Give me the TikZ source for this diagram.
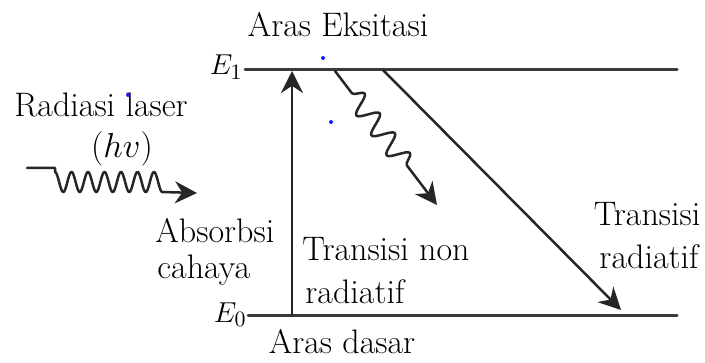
\documentclass[tikz,border=0pt]{standalone}
\usetikzlibrary{arrows.meta,decorations.pathmorphing}
\definecolor{lvlgray}{HTML}{3A3A3A}
\definecolor{dotblue}{HTML}{1A1AFF}
\tikzset{
  every picture/.style={
    line join=round,
    line cap=round,
    >={Stealth[length=11pt,width=11pt]},   % big filled heads
  },
  lvl/.style={draw=lvlgray, line width=1.5pt},
  trans/.style={draw=black!85, line width=1.25pt, ->},
  txt/.style={font=\fontsize{17}{20}\selectfont, anchor=base, inner sep=0pt},
  etxt/.style={font=\fontsize{15}{18}\selectfont, anchor=base east, inner sep=0pt},
  wavy/.style={decorate, decoration={snake, amplitude=5pt, segment length=12.5pt,
      pre length=14pt, post length=19pt}},
}
\begin{document}
\begin{tikzpicture}[x=0.5pt, y=-0.5pt]
    \useasboundingbox (0,0) rectangle (705,363);

    % Energy levels
    \coordinate (e1l) at (245,70);  \coordinate (e1r) at (677,70);
    \coordinate (e0l) at (248,315); \coordinate (e0r) at (677,315);
    \draw[lvl] (e1l) -- (e1r);
    \draw[lvl] (e0l) -- (e0r);
    \node[etxt] (E1) at (243,75) {$E_1$};
    \node[etxt] (E0) at (247,322) {$E_0$};

    % Level names
    \node[txt] (exc) at (338,37) {Aras Eksitasi};
    \node[txt] (gnd) at (342,353) {Aras dasar};

    % Incoming laser photon
    \node[txt] (rad) at (101,117) {Radiasi laser};
    \node[txt] (hv) at (122,158) {$(hv)$};
    \coordinate (laserin) at (27,168);
    \coordinate (lasertip) at (197,193);
    \draw[trans] (laserin) -- (55,168)
        -- plot[domain=0:6.5, samples=160, smooth] ({55+16.5*\x},{182-10*cos(360*\x)})
        -- (lasertip);

    % Absorption
    \coordinate (absbot) at (292,315);
    \coordinate (abstop) at (292,71);
    \draw[trans] (absbot) -- (abstop);
    \node[txt, anchor=base west] (abs) at (155,242) {Absorbsi};
    \node[txt, anchor=base west] (cah) at (157,278) {cahaya};

    % Non-radiative transition
    \coordinate (nrstart) at (335,71);
    \coordinate (nrtip) at (437,205);
    \draw[trans, wavy] (nrstart) -- (nrtip);
    \node[txt, anchor=base west] (nr1) at (302,260) {Transisi non};
    \node[txt, anchor=base west] (nr2) at (305,303) {radiatif};

    % Radiative transition
    \coordinate (rstart) at (383,70);
    \coordinate (rtip) at (621,310);
    \draw[trans] (rstart) -- (rtip);
    \node[txt] (r1) at (647,225) {Transisi};
    \node[txt] (r2) at (649,268) {radiatif};

    % stray dots
    \foreach \p in {(323,58), (331,122), (128,95)}
        \fill[dotblue] \p circle (1pt);
\end{tikzpicture}
\end{document}
